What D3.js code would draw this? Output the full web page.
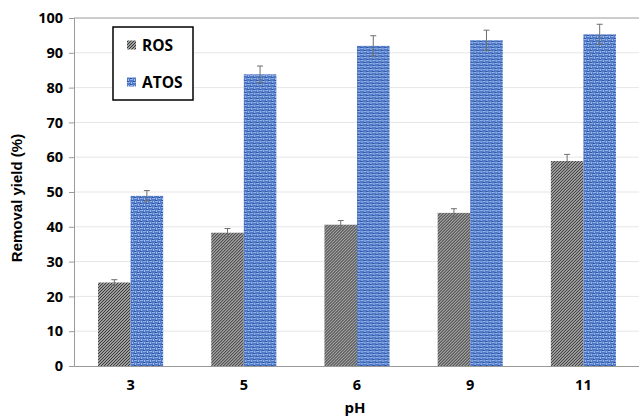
<!DOCTYPE html>
<html>
<head>
<meta charset="utf-8">
<script src="https://cdn.jsdelivr.net/npm/d3@7"></script>
<style>
  body { margin: 0; background: #fff; }
  text { font-family: "Open Sans", "Liberation Sans", sans-serif; font-weight: bold; fill: #000; }
</style>
</head>
<body>
<div id="chart"></div>
<script>
// pH levels on the x axis
var phLevels = ["3", "5", "6", "9", "11"];
var seriesNames = ["ROS", "ATOS"];
// removal yield (%)
var rosValues = [24.0, 38.3, 40.6, 44.0, 58.9];
var atosValues = [48.9, 83.8, 92.0, 93.6, 95.3];
// error bar half-lengths
var rosErrors = [0.8, 1.2, 1.2, 1.2, 1.9];
var atosErrors = [1.5, 2.4, 2.9, 2.9, 2.9];
var yTicks = [0, 10, 20, 30, 40, 50, 60, 70, 80, 90, 100];

var margin = { top: 18, right: -1, bottom: 51, left: 74 };
var width = 639 - margin.left - margin.right,
    height = 417 - margin.top - margin.bottom;

var svg = d3.select("#chart").append("svg")
    .attr("width", 639)
    .attr("height", 417);

// fill patterns
var defs = svg.append("defs");
var hatch = defs.append("pattern")
    .attr("id", "hatch-ros")
    .attr("patternUnits", "userSpaceOnUse")
    .attr("width", 3).attr("height", 3);
hatch.append("rect").attr("width", 3).attr("height", 3).attr("fill", "#d4d4d4");
hatch.append("path")
    .attr("d", "M-1,1 L1,-1 M0,3 L3,0 M2,4 L4,2")
    .attr("stroke", "#2e2e2e").attr("stroke-width", 1.2);

var weave = defs.append("pattern")
    .attr("id", "weave-atos")
    .attr("patternUnits", "userSpaceOnUse")
    .attr("width", 6).attr("height", 6);
weave.append("rect").attr("width", 6).attr("height", 6).attr("fill", "#5079c6");
weave.append("rect").attr("x", 0).attr("y", 0).attr("width", 3).attr("height", 1).attr("fill", "#93b3ea");
weave.append("rect").attr("x", 3).attr("y", 3).attr("width", 3).attr("height", 1).attr("fill", "#93b3ea");
weave.append("rect").attr("x", 4).attr("y", 0).attr("width", 1).attr("height", 2).attr("fill", "#a3c0f0");
weave.append("rect").attr("x", 1).attr("y", 3).attr("width", 1).attr("height", 2).attr("fill", "#a3c0f0");
weave.append("rect").attr("x", 0).attr("y", 5).attr("width", 2).attr("height", 1).attr("fill", "#2f539e");
weave.append("rect").attr("x", 3).attr("y", 2).attr("width", 2).attr("height", 1).attr("fill", "#2f539e");

var fills = { ROS: "url(#hatch-ros)", ATOS: "url(#weave-atos)" };

var g = svg.append("g")
    .attr("transform", "translate(" + margin.left + "," + margin.top + ")");

// Scales
var x = d3.scaleBand()
    .domain(phLevels)
    .range([0, width])
    .paddingInner(0.425)
    .paddingOuter(0.2125);

var xSub = d3.scaleBand()
    .domain(seriesNames)
    .range([0, x.bandwidth()]);

var y = d3.scaleLinear()
    .domain([0, 100])
    .range([height, 0]);

// gridlines
g.append("g")
    .selectAll("line")
    .data(yTicks.filter(function(d) { return d > 0 && d < 100; }))
    .enter().append("line")
    .attr("x1", 0).attr("x2", width)
    .attr("y1", function(d) { return y(d); })
    .attr("y2", function(d) { return y(d); })
    .attr("stroke", "#e6e6e6");

// top border
g.append("line")
    .attr("x1", 0).attr("x2", width)
    .attr("y1", y(100)).attr("y2", y(100))
    .attr("stroke", "#9a9a9a");

// bars
var data = phLevels.map(function(p, i) {
    return [
        { ph: p, name: "ROS", value: rosValues[i], err: rosErrors[i] },
        { ph: p, name: "ATOS", value: atosValues[i], err: atosErrors[i] }
    ];
});

var groups = g.selectAll(".group")
    .data(data)
    .enter().append("g")
    .attr("class", "group")
    .attr("transform", function(d) { return "translate(" + x(d[0].ph) + ",0)"; });

groups.selectAll("rect")
    .data(function(d) { return d; })
    .enter().append("rect")
    .attr("x", function(d) { return xSub(d.name); })
    .attr("width", xSub.bandwidth())
    .attr("y", function(d) { return y(d.value); })
    .attr("height", function(d) { return height - y(d.value); })
    .attr("fill", function(d) { return fills[d.name]; });

// error bars
var err = groups.selectAll(".err")
    .data(function(d) { return d; })
    .enter().append("g")
    .attr("class", "err")
    .attr("stroke", "#6e6e6e")
    .attr("stroke-width", 1);

err.append("line")
    .attr("x1", function(d) { return xSub(d.name) + xSub.bandwidth() / 2; })
    .attr("x2", function(d) { return xSub(d.name) + xSub.bandwidth() / 2; })
    .attr("y1", function(d) { return y(d.value - d.err); })
    .attr("y2", function(d) { return y(d.value + d.err); });

err.selectAll(".cap")
    .data(function(d) { return [d.value - d.err, d.value + d.err].map(function(v) { return { d: d, v: v }; }); })
    .enter().append("line")
    .attr("x1", function(c) { return xSub(c.d.name) + xSub.bandwidth() / 2 - 3; })
    .attr("x2", function(c) { return xSub(c.d.name) + xSub.bandwidth() / 2 + 3; })
    .attr("y1", function(c) { return y(c.v); })
    .attr("y2", function(c) { return y(c.v); });

// axes
var yAxis = d3.axisLeft(y).tickValues(yTicks).tickSize(5).tickPadding(6);
var yAx = g.append("g").attr("class", "y-axis").call(yAxis);
yAx.select(".domain").attr("stroke", "#9a9a9a");
yAx.selectAll(".tick line").attr("stroke", "#9a9a9a");
yAx.selectAll("text").style("font-size", "14.5px").style("font-weight", "bold");

var xAxis = d3.axisBottom(x).tickSize(0).tickPadding(14);
var xAx = g.append("g").attr("class", "x-axis")
    .attr("transform", "translate(0," + height + ")")
    .call(xAxis);
xAx.select(".domain").attr("stroke", "#9a9a9a");
xAx.selectAll("text").style("font-size", "14.5px").style("font-weight", "bold");

// axis titles
svg.append("text")
    .attr("transform", "rotate(-90)")
    .attr("x", -198)
    .attr("y", 22)
    .attr("text-anchor", "middle")
    .style("font-family", "'Liberation Sans', Arial, sans-serif")
    .style("font-size", "15px")
    .text("Removal yield (%)");

svg.append("text")
    .attr("x", 355)
    .attr("y", 413)
    .attr("text-anchor", "middle")
    .style("font-size", "15px")
    .text("pH");

// legend
var legend = svg.append("g").attr("transform", "translate(113,27)");
legend.append("rect")
    .attr("width", 80).attr("height", 73)
    .attr("fill", "#fff")
    .attr("stroke", "#000")
    .attr("stroke-width", 1.5);

var items = legend.selectAll(".item")
    .data(seriesNames)
    .enter().append("g")
    .attr("transform", function(d, i) { return "translate(14," + (18 + i * 37) + ")"; });

items.append("rect")
    .attr("y", -4.5)
    .attr("width", 9).attr("height", 9)
    .attr("fill", function(d) { return fills[d]; });

items.append("text")
    .attr("x", 15)
    .attr("dy", "0.36em")
    .style("font-size", "15.5px")
    .text(function(d) { return d; });
</script>
</body>
</html>
